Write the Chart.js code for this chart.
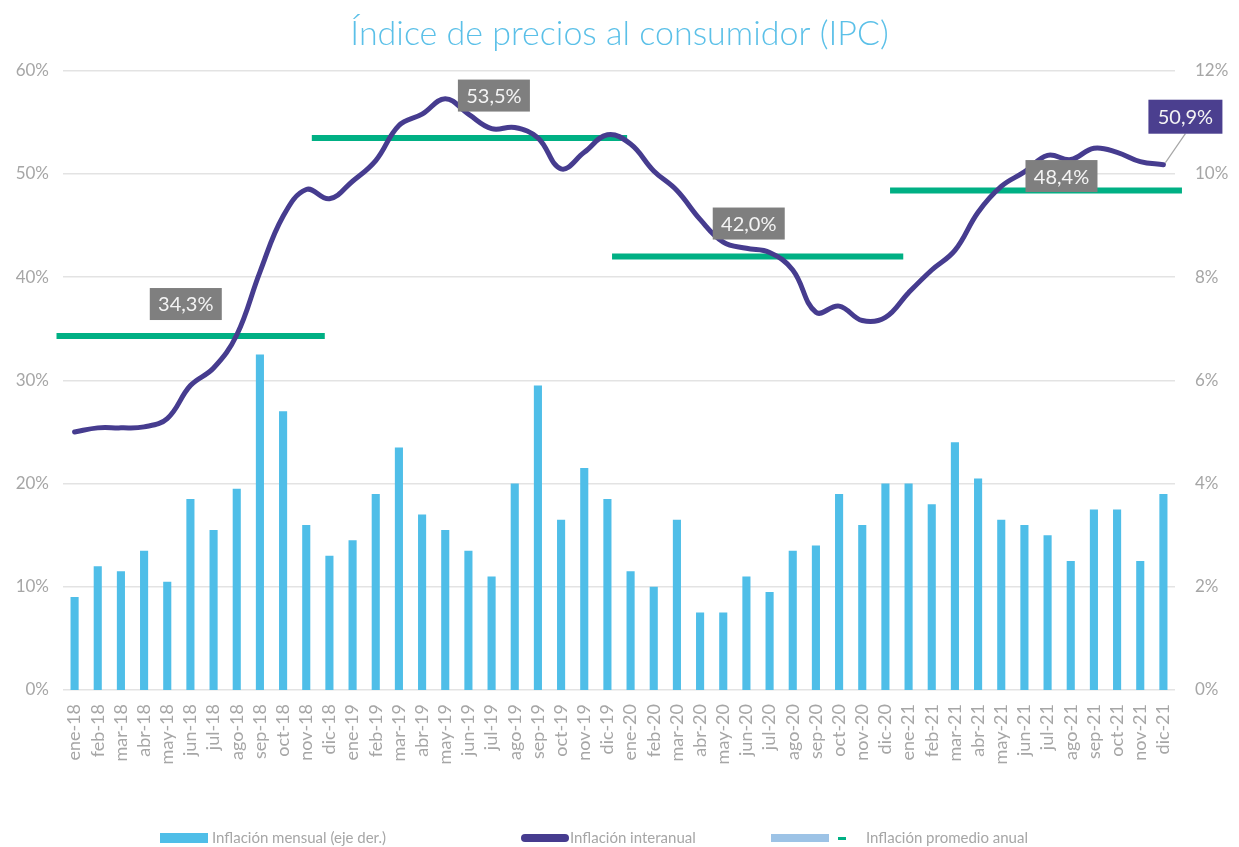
<!DOCTYPE html>
<html>
<head>
<meta charset="utf-8">
<script src="https://cdn.jsdelivr.net/npm/chart.js@4/dist/chart.umd.min.js"></script>
<style>
  html, body { margin: 0; padding: 0; background: #fff; }
  #wrap { width: 1239px; height: 847px; }
</style>
</head>
<body>
<div id="wrap"><canvas id="ipc"></canvas></div>
<script>
'use strict';

// meses
var meses = ['ene-18','feb-18','mar-18','abr-18','may-18','jun-18','jul-18','ago-18','sep-18','oct-18','nov-18','dic-18',
             'ene-19','feb-19','mar-19','abr-19','may-19','jun-19','jul-19','ago-19','sep-19','oct-19','nov-19','dic-19',
             'ene-20','feb-20','mar-20','abr-20','may-20','jun-20','jul-20','ago-20','sep-20','oct-20','nov-20','dic-20',
             'ene-21','feb-21','mar-21','abr-21','may-21','jun-21','jul-21','ago-21','sep-21','oct-21','nov-21','dic-21'];

// inflacion mensual (eje der.)
var inflMensual = [1.8, 2.4, 2.3, 2.7, 2.1, 3.7, 3.1, 3.9, 6.5, 5.4, 3.2, 2.6,
                   2.9, 3.8, 4.7, 3.4, 3.1, 2.7, 2.2, 4.0, 5.9, 3.3, 4.3, 3.7,
                   2.3, 2.0, 3.3, 1.5, 1.5, 2.2, 1.9, 2.7, 2.8, 3.8, 3.2, 4.0,
                   4.0, 3.6, 4.8, 4.1, 3.3, 3.2, 3.0, 2.5, 3.5, 3.5, 2.5, 3.8];

// inflacion interanual (eje izq.)
var inflInteranual = [25.0, 25.4, 25.4, 25.5, 26.3, 29.5, 31.2, 34.4, 40.5, 45.9, 48.5, 47.6,
                      49.3, 51.3, 54.7, 55.8, 57.3, 55.8, 54.4, 54.5, 53.5, 50.5, 52.1, 53.8,
                      52.9, 50.3, 48.4, 45.6, 43.4, 42.8, 42.4, 40.7, 36.6, 37.2, 35.8, 36.1,
                      38.5, 40.7, 42.6, 46.3, 48.8, 50.2, 51.8, 51.4, 52.5, 52.1, 51.2, 50.9];

// inflacion promedio anual y tramo que cubre cada barra (en indices de mes)
var promedioAnual = [34.3, 53.5, 42.0, 48.4];
var tramoDesde = [-0.78, 10.24, 23.2, 35.2];
var tramoHasta = [10.8, 23.85, 35.77, 47.8];

var ejeIzq = [0, 60, 10];
var ejeDer = [0, 12, 2];

var fuente = 'Lato, "Open Sans", sans-serif';
var gris = '#a6a6a6';

function pct(v) { return v.toFixed(1).replace('.', ',') + '%'; }

var puntosPromedio = [];
for (var i = 0; i < promedioAnual.length; i++) {
    puntosPromedio.push({x: tramoDesde[i], y: promedioAnual[i]});
    puntosPromedio.push({x: tramoHasta[i], y: promedioAnual[i]});
    puntosPromedio.push({x: tramoHasta[i], y: null});
}

// donde van las cajas grises (indice de mes, valor eje izq.)
var cajasPromedio = [[4.8, 37.4], [18.1, 57.6], [29.1, 45.2], [42.6, 49.8]];

var etiquetas = {
    id: 'etiquetas',
    afterDatasetsDraw: function(chart) {
        var ctx = chart.ctx;
        var xa = chart.scales.xAvg, y = chart.scales.y;
        ctx.save();
        ctx.font = '20px ' + fuente;
        ctx.textAlign = 'center';
        ctx.textBaseline = 'middle';
        for (var i = 0; i < cajasPromedio.length; i++) {
            var cx = xa.getPixelForValue(cajasPromedio[i][0]);
            var cy = y.getPixelForValue(cajasPromedio[i][1]);
            ctx.fillStyle = '#7f7f7f';
            ctx.fillRect(cx - 36, cy - 16, 72, 32);
            ctx.fillStyle = '#f4f4f4';
            ctx.fillText(pct(promedioAnual[i]), cx, cy + 1);
        }
        // ultimo dato interanual
        var meta = chart.getDatasetMeta(1);
        var p = meta.data[meta.data.length - 1];
        var bx = p.x + 22, by = p.y - 48;
        ctx.strokeStyle = '#a6a6a6';
        ctx.lineWidth = 1.2;
        ctx.beginPath();
        ctx.moveTo(p.x + 2, p.y - 2);
        ctx.lineTo(bx, by + 17);
        ctx.stroke();
        ctx.fillStyle = '#4b3f8f';
        ctx.fillRect(bx - 37, by - 17, 74, 34);
        ctx.fillStyle = '#f4f4f4';
        ctx.fillText(pct(inflInteranual[inflInteranual.length - 1]), bx, by + 1);
        ctx.restore();
    }
};

var leyenda = {
    id: 'leyenda',
    afterDraw: function(chart) {
        var ctx = chart.ctx;
        var yy = 838;
        ctx.save();
        ctx.font = '15px ' + fuente;
        ctx.textBaseline = 'middle';
        ctx.fillStyle = '#4fbee8';
        ctx.fillRect(160, yy - 5, 48, 10);
        ctx.strokeStyle = '#463c8f';
        ctx.lineWidth = 8;
        ctx.lineCap = 'round';
        ctx.beginPath();
        ctx.moveTo(525, yy);
        ctx.lineTo(565, yy);
        ctx.stroke();
        ctx.fillStyle = '#9dc3e6';
        ctx.fillRect(771, yy - 4, 58, 8);
        ctx.fillStyle = '#00b084';
        ctx.fillRect(838, yy - 1, 8, 3);
        ctx.fillStyle = gris;
        ctx.fillText('Inflación mensual (eje der.)', 212, yy);
        ctx.fillText('Inflación interanual', 570, yy);
        ctx.fillText('Inflación promedio anual', 866, yy);
        ctx.restore();
    }
};

var ctx = document.getElementById('ipc').getContext('2d');
var chart = new Chart(ctx, {
    type: 'bar',
    data: {
        labels: meses,
        datasets: [
            {
                type: 'bar',
                label: 'Inflación mensual (eje der.)',
                data: inflMensual,
                yAxisID: 'y1',
                backgroundColor: '#4fbee8',
                grouped: false,
                categoryPercentage: 1,
                barPercentage: 0.35,
                order: 3
            },
            {
                type: 'line',
                label: 'Inflación interanual',
                data: inflInteranual,
                yAxisID: 'y',
                borderColor: '#463c8f',
                borderWidth: 5,
                pointRadius: 0,
                tension: 0.4,
                borderCapStyle: 'round',
                order: 1
            },
            {
                type: 'line',
                label: 'Inflación promedio anual',
                data: puntosPromedio,
                xAxisID: 'xAvg',
                yAxisID: 'y',
                borderColor: '#00b084',
                borderWidth: 6,
                pointRadius: 0,
                spanGaps: false,
                borderCapStyle: 'butt',
                clip: false,
                order: 2
            }
        ]
    },
    options: {
        responsive: true,
        maintainAspectRatio: false,
        animation: false,
        layout: { padding: 0 },
        plugins: {
            legend: { display: false },
            tooltip: { enabled: false },
            title: {
                display: true,
                text: 'Índice de precios al consumidor (IPC)',
                color: '#5bc0e8',
                font: { family: fuente, size: 34, weight: '300' },
                padding: { top: 14, bottom: 16 }
            }
        },
        scales: {
            x: {
                offset: true,
                grid: { display: false },
                border: { display: false },
                ticks: {
                    color: gris,
                    font: { family: fuente, size: 18 },
                    minRotation: 90,
                    maxRotation: 90,
                    autoSkip: false,
                    padding: 6
                },
                afterFit: function(s) { s.height = 157; }
            },
            xAvg: {
                type: 'linear',
                display: false,
                offset: false,
                bounds: 'data',
                grace: 0,
                min: -0.5,
                max: 47.5
            },
            y: {
                position: 'left',
                min: ejeIzq[0],
                max: ejeIzq[1],
                ticks: {
                    stepSize: ejeIzq[2],
                    color: gris,
                    font: { family: fuente, size: 17 },
                    padding: 14,
                    callback: function(v) { return v + '%'; }
                },
                grid: { color: '#e3e3e3', lineWidth: 1.5, drawTicks: false },
                border: { display: false },
                afterFit: function(s) { s.width = 63; }
            },
            y1: {
                position: 'right',
                min: ejeDer[0],
                max: ejeDer[1],
                ticks: {
                    stepSize: ejeDer[2],
                    color: gris,
                    font: { family: fuente, size: 17 },
                    padding: 20,
                    callback: function(v) { return v + '%'; }
                },
                grid: { display: false, drawTicks: false },
                border: { display: false },
                afterFit: function(s) { s.width = 64; }
            }
        }
    },
    plugins: [etiquetas, leyenda]
});
</script>
</body>
</html>
